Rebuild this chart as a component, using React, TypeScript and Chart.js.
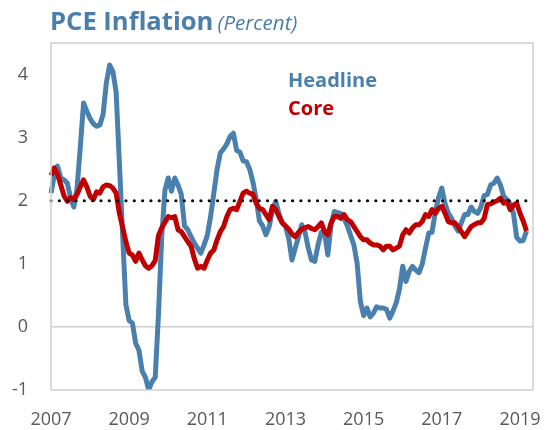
import React, { useEffect, useRef } from "react";
import Chart from "chart.js/auto";

// Monthly, Jan 2007 .. Mar 2019 (year-over-year % change)
const HEADLINE = [
  2.12, 2.4, 2.55, 2.36, 2.33, 2.28, 2.05, 1.9, 2.2, 2.85, 3.55, 3.42,
  3.3, 3.22, 3.18, 3.2, 3.37, 3.87, 4.15, 4.05, 3.72, 2.6, 1.45, 0.35,
  0.1, 0.06, -0.26, -0.37, -0.7, -0.8, -1.0, -0.87, -0.8, 0.2, 1.43, 2.17,
  2.36, 2.15, 2.36, 2.25, 2.1, 1.6, 1.54, 1.43, 1.33, 1.25, 1.17, 1.3,
  1.45, 1.75, 2.12, 2.5, 2.76, 2.82, 2.9, 3.02, 3.07, 2.8, 2.77, 2.63,
  2.62, 2.5, 2.3, 2.02, 1.68, 1.6, 1.46, 1.59, 1.85, 1.99, 1.8, 1.65,
  1.6, 1.4, 1.06, 1.25, 1.43, 1.62, 1.5, 1.25, 1.06, 1.04, 1.3, 1.5,
  1.49, 1.14, 1.62, 1.83, 1.81, 1.8, 1.72, 1.6, 1.45, 1.3, 1.01, 0.4,
  0.18, 0.3, 0.16, 0.22, 0.32, 0.3, 0.3, 0.28, 0.14, 0.25, 0.38, 0.6,
  0.96, 0.72, 0.88, 0.96, 0.9, 0.86, 1.0, 1.25, 1.49, 1.5, 1.82, 2.05,
  2.2, 1.95, 1.8, 1.72, 1.6, 1.52, 1.65, 1.78, 1.78, 1.9, 1.83, 1.8,
  1.9, 2.08, 2.1, 2.25, 2.28, 2.36, 2.25, 2.07, 2.02, 1.95, 1.8, 1.42,
  1.36, 1.37, 1.52,
];

const CORE = [
  2.4, 2.52, 2.42, 2.25, 2.08, 1.99, 2.05, 2.02, 2.1, 2.22, 2.33, 2.22,
  2.07, 2.02, 2.14, 2.12, 2.22, 2.25, 2.24, 2.2, 2.12, 1.8, 1.58, 1.35,
  1.17, 1.14, 1.04, 1.17, 1.06, 0.97, 0.93, 0.97, 1.05, 1.45, 1.57, 1.66,
  1.75, 1.73, 1.75, 1.54, 1.51, 1.43, 1.35, 1.28, 1.08, 0.93, 0.96, 0.93,
  1.06, 1.17, 1.22, 1.38, 1.51, 1.59, 1.75, 1.86, 1.88, 1.86, 1.99, 2.12,
  2.15, 2.12, 2.1, 1.96, 1.88, 1.86, 1.78, 1.7, 1.91, 1.86, 1.75, 1.65,
  1.6, 1.55, 1.47, 1.43, 1.5, 1.55, 1.57, 1.59, 1.56, 1.54, 1.59, 1.65,
  1.51, 1.46, 1.65, 1.75, 1.75, 1.72, 1.78, 1.7, 1.67, 1.59, 1.51, 1.43,
  1.38, 1.38, 1.33, 1.3, 1.3, 1.28, 1.22, 1.28, 1.28, 1.22, 1.25, 1.28,
  1.46, 1.54, 1.49, 1.57, 1.62, 1.62, 1.67, 1.78, 1.75, 1.86, 1.8, 1.88,
  1.91, 1.8, 1.67, 1.65, 1.65, 1.59, 1.51, 1.43, 1.51, 1.59, 1.62, 1.65,
  1.65, 1.72, 1.94, 1.95, 1.98, 2.0, 2.04, 1.96, 1.99, 1.86, 1.93, 1.96,
  1.8, 1.68, 1.52,
];

const TARGET_RATE = 2;
const FIRST_YEAR = 2007;
const AXIS_MONTHS = 149; // Jan 2007 .. May 2019
const YEAR_TICKS = ["2007", "2009", "2011", "2013", "2015", "2017", "2019"];
const Y_TICKS = [-1, 0, 1, 2, 3, 4];

const MONTH_LABELS: string[] = [];
for (let i = 0; i < AXIS_MONTHS; i++) {
  const y = FIRST_YEAR + Math.floor(i / 12);
  const m = (i % 12) + 1;
  MONTH_LABELS.push(`${y}-${m < 10 ? "0" + m : m}`);
}
const TARGET = HEADLINE.map(() => TARGET_RATE);

const BLUE = "#4A80AE";
const RED = "#C00000";
const TICK_COLOR = "#595959";
const FONT = "'Open Sans', 'Noto Sans', sans-serif";

const frame = {
  id: "frame",
  afterDraw(chart: any) {
    const { ctx, chartArea: a } = chart;
    ctx.save();
    ctx.strokeStyle = "#d0d0d0";
    ctx.lineWidth = 1.5;
    ctx.strokeRect(a.left, a.top, a.right - a.left, a.bottom - a.top);
    ctx.restore();
  },
};

export default function App() {
  const ref = useRef<HTMLCanvasElement>(null);

  useEffect(() => {
    if (!ref.current) return;
    const chart = new Chart(ref.current, {
      type: "line",
      data: {
        labels: MONTH_LABELS,
        datasets: [
          {
            label: "Target",
            data: TARGET,
            borderColor: "#000000",
            borderWidth: 3.2,
            borderDash: [0, 8.33],
            borderCapStyle: "round",
            pointRadius: 0,
            order: 0,
          },
          {
            label: "Core",
            data: CORE,
            borderColor: RED,
            borderWidth: 5,
            borderJoinStyle: "round",
            pointRadius: 0,
            order: 1,
          },
          {
            label: "Headline",
            data: HEADLINE,
            borderColor: BLUE,
            borderWidth: 5,
            borderJoinStyle: "round",
            pointRadius: 0,
            order: 2,
          },
        ],
      },
      options: {
        animation: false,
        responsive: true,
        maintainAspectRatio: false,
        layout: { padding: { top: 43, right: 5, left: 0, bottom: 0 } },
        plugins: { legend: { display: false }, tooltip: { enabled: false }, title: { display: false } },
        scales: {
          x: {
            type: "category",
            offset: false,
            grid: { display: false, drawTicks: false },
            border: { display: false },
            ticks: {
              autoSkip: false,
              maxRotation: 0,
              minRotation: 0,
              padding: 19,
              color: TICK_COLOR,
              font: { family: FONT, size: 18 },
              callback: (_v: any, i: number) => {
                const lab = MONTH_LABELS[i];
                const yr = lab.slice(0, 4);
                return lab.endsWith("-01") && YEAR_TICKS.includes(yr) ? yr : "";
              },
            },
            afterFit: (s: any) => {
              s.height = 40;
            },
          },
          y: {
            min: Y_TICKS[0],
            max: 4.5,
            grid: {
              drawTicks: false,
              color: (c: any) => (c.tick && c.tick.value === 0 ? "#d0d0d0" : "rgba(0,0,0,0)"),
              lineWidth: 1.5,
            },
            border: { display: false },
            afterBuildTicks: (s: any) => {
              s.ticks = Y_TICKS.map((v) => ({ value: v }));
            },
            ticks: {
              padding: 23,
              color: TICK_COLOR,
              font: { family: FONT, size: 18 },
            },
            afterFit: (s: any) => {
              s.width = 51;
            },
          },
        },
      },
      plugins: [frame],
    });
    return () => chart.destroy();
  }, []);

  return (
    <div style={{ position: "absolute", left: 0, top: 0, width: 552, height: 430, background: "#fff" }}>
      <canvas ref={ref} />
      <div
        style={{
          position: "absolute",
          left: 50,
          top: 6,
          lineHeight: "30px",
          whiteSpace: "nowrap",
          fontFamily: FONT,
          color: "#4A7EAB",
        }}
      >
        <span style={{ fontSize: 25.6, fontWeight: 700 }}>PCE Inflation</span>{" "}
        <span style={{ fontSize: 20.5, fontStyle: "italic" }}>(Percent)</span>
      </div>
      <div
        style={{
          position: "absolute",
          left: 288,
          top: 66,
          lineHeight: "27.7px",
          whiteSpace: "nowrap",
          fontFamily: FONT,
          fontSize: 20,
          fontWeight: 700,
        }}
      >
        <div style={{ color: BLUE }}>Headline</div>
        <div style={{ color: RED }}>Core</div>
      </div>
    </div>
  );
}
